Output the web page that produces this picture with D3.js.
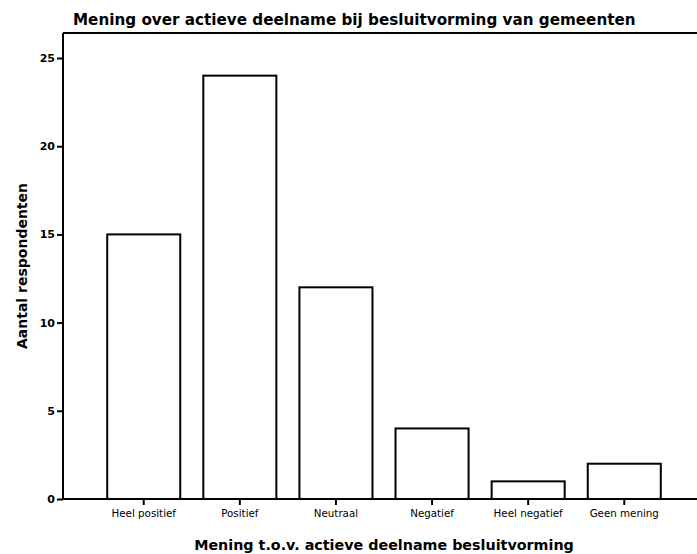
<!DOCTYPE html>
<html>
<head>
<meta charset="utf-8">
<script src="https://cdn.jsdelivr.net/npm/d3@7"></script>
<style>
  body { margin: 0; background: #fff; }
  text { font-family: "DejaVu Sans", sans-serif; fill: #000; }
</style>
</head>
<body>
<div id="chart-container"></div>
<script>
const categories = ["Heel positief", "Positief", "Neutraal", "Negatief", "Heel negatief", "Geen mening"];
const counts = [15, 24, 12, 4, 1, 2];
const yTicks = [0, 5, 10, 15, 20, 25];

const main = function() {
  const width = 697, height = 554;
  const left = 63, top = 33, bottom = 499, right = 705;

  const svg = d3.select("#chart-container")
    .append("svg")
    .attr("width", width)
    .attr("height", height);

  const x = d3.scaleBand()
    .domain(categories)
    .range([left, right])
    .paddingInner(0.24)
    .paddingOuter(0.46);

  const y = d3.scaleLinear()
    .domain([0, 25])
    .range([bottom, 58]);

  // top frame line
  svg.append("line")
    .attr("x1", left).attr("x2", width)
    .attr("y1", top).attr("y2", top)
    .style("stroke", "#000").style("stroke-width", 2);

  svg.selectAll()
    .data(categories)
    .enter()
    .append("rect")
    .attr("x", d => x(d))
    .attr("width", x.bandwidth())
    .attr("y", (d, i) => y(counts[i]))
    .attr("height", (d, i) => bottom - y(counts[i]))
    .style("fill", "#fff")
    .style("stroke", "#000")
    .style("stroke-width", 2);

  const yAxis = svg.append("g")
    .attr("transform", "translate(" + left + ",0)")
    .call(d3.axisLeft(y).tickValues(yTicks).tickSize(6).tickPadding(2));
  yAxis.select(".domain").attr("d", "M0," + bottom + "V" + top);

  const xAxis = svg.append("g")
    .attr("transform", "translate(0," + bottom + ")")
    .call(d3.axisBottom(x).tickSize(6).tickPadding(5));
  xAxis.select(".domain").attr("d", "M" + left + ",0H" + width);

  svg.selectAll(".domain, .tick line")
    .style("stroke", "#000")
    .style("stroke-width", 2);
  yAxis.selectAll("text")
    .style("font-family", "DejaVu Sans")
    .style("font-size", "11px")
    .style("font-weight", "bold");
  xAxis.selectAll("text")
    .style("font-family", "DejaVu Sans")
    .style("font-size", "10.3px");

  svg.append("text")
    .attr("x", 73)
    .attr("y", 25)
    .style("font-size", "15.2px")
    .style("font-weight", "bold")
    .text("Mening over actieve deelname bij besluitvorming van gemeenten");

  svg.append("text")
    .attr("x", 384)
    .attr("y", 550)
    .attr("text-anchor", "middle")
    .style("font-size", "14.3px")
    .style("font-weight", "bold")
    .text("Mening t.o.v. actieve deelname besluitvorming");

  svg.append("text")
    .attr("transform", "translate(27,266) rotate(-90)")
    .attr("text-anchor", "middle")
    .style("font-size", "14px")
    .style("font-weight", "bold")
    .text("Aantal respondenten");
};

window.onload = main;
</script>
</body>
</html>
